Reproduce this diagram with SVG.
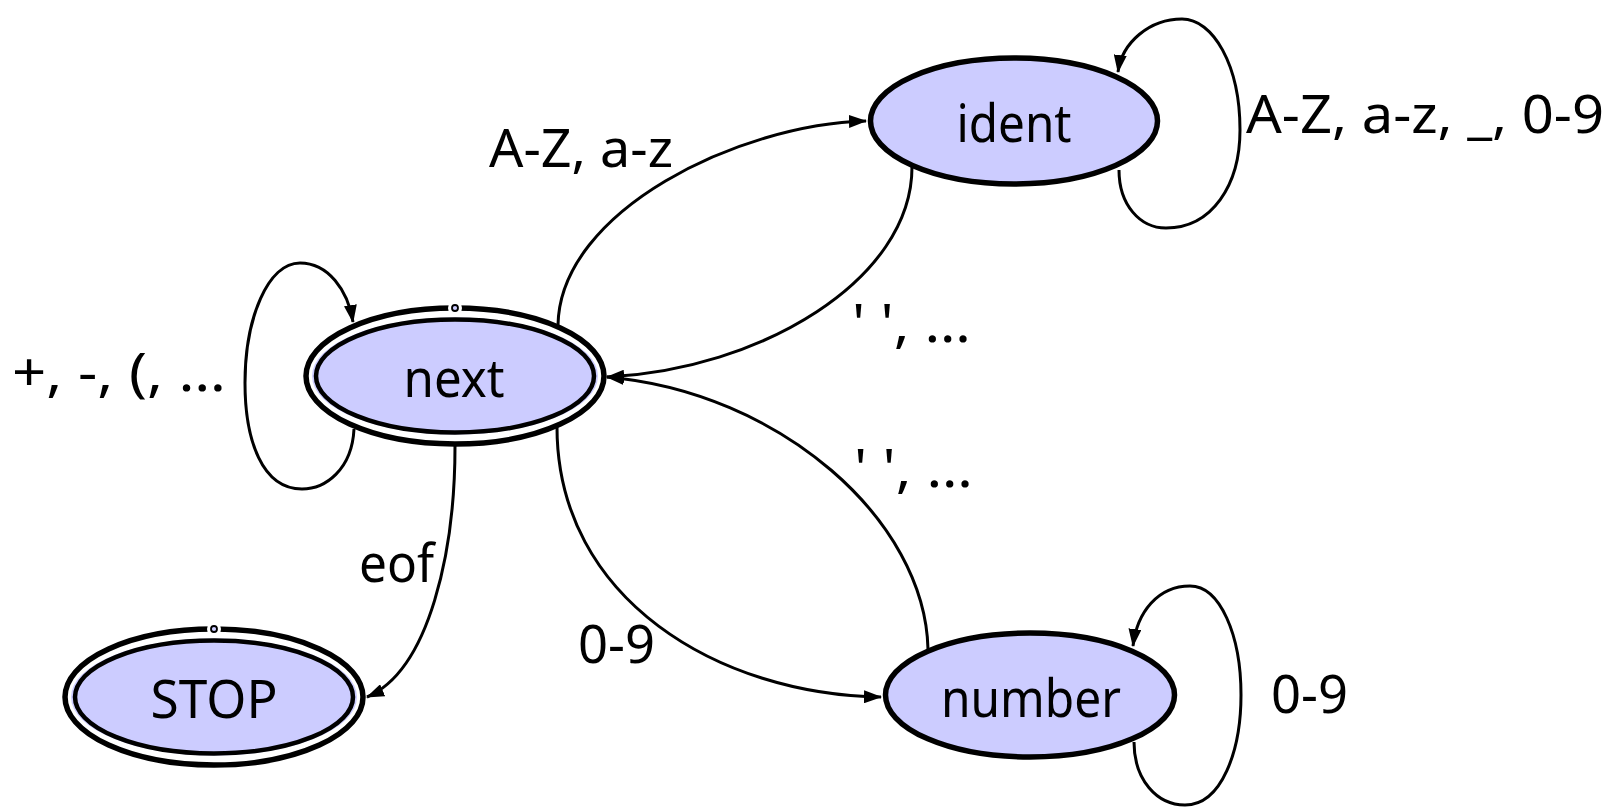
<svg xmlns="http://www.w3.org/2000/svg" width="1617" height="811" viewBox="0 0 1617 811">
<style>
text{font-family:'Noto Sans','Liberation Sans',sans-serif;font-size:53px;fill:#000}
.lbl{text-anchor:middle}
.st{fill:#ccccff;stroke:#000;stroke-width:5.5}
.outer{fill:#fff;stroke:#000;stroke-width:5.5}
.halo{fill:#ccccff;stroke:none}
.inner{fill:#ccccff;stroke:#000;stroke-width:4.5}
.edge{fill:none;stroke:#000;stroke-width:3;marker-end:url(#arr)}
.gap{fill:#fff}
.dot{fill:#ccccff;stroke:#000;stroke-width:1.8}
</style>
<defs>
<marker id="arr" viewBox="0 0 18 13" refX="17" refY="6.5" markerWidth="18" markerHeight="13" orient="auto" markerUnits="userSpaceOnUse">
<path d="M0,0 L18,6.5 L0,13 z" fill="#000"/>
</marker>
</defs>
<g id="connectors">
<path class="edge" d="M558,325 C560,210 740,124 866,121"/>
<path class="edge" d="M912,167 C912,280 760,370 607,377"/>
<path class="edge" d="M928,649 C925,520 780,392 607,377"/>
<path class="edge" d="M557,427 C557,600 720,695 881,697"/>
<path class="edge" d="M455,446 C455,550 430,670 367,697"/>
<path class="edge" d="M354,429 C352,470 325,489 302,489 C262,489 245,440 245,383 C245,318 268,263 300,263 C328,263 348,290 353,322"/>
<path class="edge" d="M1119,170 C1119,205 1140,228 1166,228 C1212,228 1240,185 1240,130 C1240,65 1213,19 1182,19 C1150,19 1122,42 1118,72"/>
<path class="edge" d="M1134,742 C1134,780 1157,805 1185,805 C1222,805 1241,750 1241,695 C1241,635 1220,586 1190,586 C1158,586 1137,612 1133,646"/>
</g>
<g id="node-next">
<ellipse class="outer" cx="455" cy="376" rx="149" ry="68"/>
<ellipse class="halo" cx="455" cy="376" rx="143" ry="58.5"/>
<ellipse class="inner" cx="455" cy="376" rx="139" ry="56.5"/>
<circle class="gap" cx="455" cy="308" r="7"/>
<circle class="dot" cx="455" cy="308" r="3"/>
<text class="lbl" x="454" y="397" textLength="101" lengthAdjust="spacingAndGlyphs">next</text>
</g>
<g id="node-stop">
<ellipse class="outer" cx="214" cy="697" rx="149" ry="68"/>
<ellipse class="halo" cx="214" cy="697" rx="143" ry="58.5"/>
<ellipse class="inner" cx="214" cy="697" rx="139" ry="56.5"/>
<circle class="gap" cx="214" cy="629" r="7"/>
<circle class="dot" cx="214" cy="629" r="3"/>
<text class="lbl" x="214" y="718" textLength="127" lengthAdjust="spacingAndGlyphs">STOP</text>
</g>
<g id="node-ident">
<ellipse class="st" cx="1014" cy="121" rx="143.5" ry="63"/>
<text class="lbl" x="1014" y="142" textLength="115" lengthAdjust="spacingAndGlyphs">ident</text>
</g>
<g id="node-number">
<ellipse class="st" cx="1030" cy="695" rx="144.5" ry="62"/>
<text class="lbl" x="1031" y="717" textLength="180" lengthAdjust="spacingAndGlyphs">number</text>
</g>
<g id="labels">
<text x="489" y="167" textLength="184" lengthAdjust="spacingAndGlyphs">A-Z, a-z</text>
<text x="1246" y="133" textLength="358" lengthAdjust="spacingAndGlyphs">A-Z, a-z, _, 0-9</text>
<text x="852" y="342" textLength="119" lengthAdjust="spacingAndGlyphs">' ', …</text>
<text x="854" y="487" textLength="119" lengthAdjust="spacingAndGlyphs">' ', …</text>
<text x="12" y="391" textLength="214" lengthAdjust="spacingAndGlyphs">+, -, (, …</text>
<text x="359" y="582" textLength="75" lengthAdjust="spacingAndGlyphs">eof</text>
<text x="578" y="663" textLength="77" lengthAdjust="spacingAndGlyphs">0-9</text>
<text x="1271" y="713" textLength="77" lengthAdjust="spacingAndGlyphs">0-9</text>
</g>
</svg>
